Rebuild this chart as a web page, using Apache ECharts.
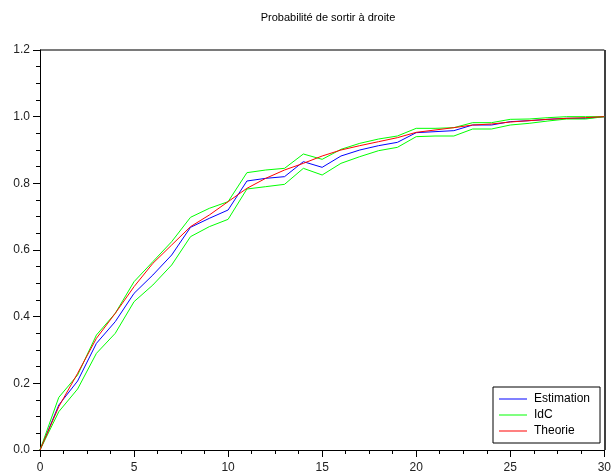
<!DOCTYPE html>
<html>
<head>
    <meta charset="utf-8">
    <script src="https://cdn.jsdelivr.net/npm/echarts@6/dist/echarts.min.js"></script>
</head>
<body style="margin:0">
<div id="main" style="width: 614px;height:476px;"></div>
<script type="text/javascript">
    // abscisses 0..30
    var xs = [0,1,2,3,4,5,6,7,8,9,10,11,12,13,14,15,16,17,18,19,20,21,22,23,24,25,26,27,28,29,30];
    var estimation = [0, 0.135, 0.207, 0.32, 0.385, 0.47, 0.525, 0.585, 0.668, 0.695, 0.72, 0.807, 0.815, 0.82, 0.865, 0.848, 0.882, 0.9, 0.913, 0.923, 0.952, 0.955, 0.958, 0.975, 0.975, 0.985, 0.988, 0.992, 0.995, 0.995, 1.0];
    var idcHaut = [0, 0.158, 0.225, 0.345, 0.41, 0.505, 0.565, 0.625, 0.698, 0.725, 0.745, 0.832, 0.84, 0.845, 0.888, 0.872, 0.902, 0.92, 0.933, 0.942, 0.965, 0.965, 0.967, 0.982, 0.982, 0.992, 0.993, 0.997, 1.0, 1.0, 1.0];
    var idcBas = [0, 0.115, 0.183, 0.29, 0.35, 0.445, 0.495, 0.555, 0.64, 0.67, 0.692, 0.783, 0.79, 0.797, 0.845, 0.825, 0.86, 0.88, 0.898, 0.908, 0.94, 0.942, 0.942, 0.963, 0.963, 0.975, 0.98, 0.987, 0.993, 0.993, 1.0];
    var theorie = [0, 0.13, 0.23, 0.335, 0.41, 0.49, 0.56, 0.615, 0.67, 0.705, 0.745, 0.785, 0.815, 0.84, 0.86, 0.882, 0.9, 0.913, 0.925, 0.937, 0.953, 0.96, 0.967, 0.975, 0.978, 0.984, 0.988, 0.992, 0.995, 0.997, 1.0];
    var yMax = 1.2;

    function paires(ys) {
        return xs.map(function (x, i) { return [x, ys[i]]; });
    }

    var police = 'Liberation Sans, Arial, sans-serif';
    var vide = 'rgba(0,0,0,0)';

    function ligne(nom, couleur, ys) {
        return {
            name: nom,
            type: 'line',
            symbol: 'none',
            data: paires(ys),
            lineStyle: {color: couleur, width: 1},
            itemStyle: {color: couleur},
            z: 3
        };
    }

    var myChart = echarts.init(document.getElementById('main'));

    var option = {
        animation: false,
        backgroundColor: '#fff',
        title: {
            text: 'Probabilité de sortir à droite',
            left: 323,
            textAlign: 'center',
            top: 7,
            textStyle: {fontFamily: police, fontSize: 11, fontWeight: 'normal', color: '#000'}
        },
        legend: {
            data: ['Estimation', 'IdC', 'Theorie'],
            orient: 'vertical',
            left: 493,
            top: 387,
            icon: 'rect',
            itemWidth: 28,
            itemHeight: 1,
            itemGap: 4,
            padding: [6, 10, 6, 6],
            borderColor: '#000',
            borderWidth: 1,
            borderRadius: 0,
            backgroundColor: '#fff',
            textStyle: {fontFamily: police, fontSize: 12, color: '#000', padding: [1, 0, 1, 2]}
        },
        grid: {left: 40, right: 7.5, top: 50, bottom: 26, containLabel: false},
        xAxis: [{
            type: 'value', min: 0, max: 30, interval: 5,
            axisLine: {show: true, onZero: false, lineStyle: {color: '#000', width: 1}},
            axisTick: {length: 7, lineStyle: {color: '#000'}},
            minorTick: {show: true, splitNumber: 4, length: 4, lineStyle: {color: '#000'}},
            axisLabel: {fontFamily: police, fontSize: 12, color: '#222', margin: 12},
            // seule la derniere ligne (x = 30) est visible : bord droit noir
            splitLine: {show: true, lineStyle: {width: 1.5,
                color: [vide, vide, vide, vide, vide, vide, '#000']}}
        }],
        yAxis: [{
            type: 'value', min: 0, max: yMax, interval: 0.2,
            axisLine: {show: true, onZero: false, lineStyle: {color: '#000', width: 1}},
            axisTick: {show: true, length: 7, lineStyle: {color: '#000'}},
            minorTick: {show: true, splitNumber: 4, length: 4, lineStyle: {color: '#000'}},
            axisLabel: {fontFamily: police, fontSize: 12, color: '#222', margin: 10,
                formatter: function (v) { return v.toFixed(1); }},
            // seule la derniere ligne (y = 1.2) est visible : bord haut gris
            splitLine: {show: true, lineStyle: {width: 2,
                color: [vide, vide, vide, vide, vide, vide, '#7a7a7a']}}
        }],
        series: [
            ligne('Estimation', '#0000ff', estimation),
            ligne('IdC', '#00ff00', idcHaut),
            ligne('IdC', '#00ff00', idcBas),
            ligne('Theorie', '#ff0000', theorie)
        ]
    };

    myChart.setOption(option);
</script>
</body>
</html>
